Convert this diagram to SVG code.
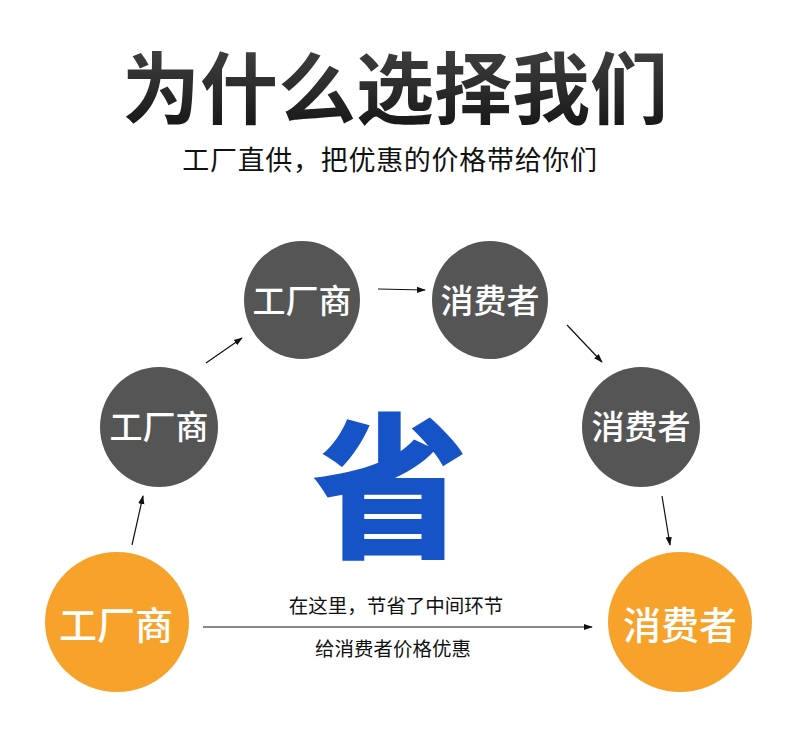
<svg xmlns="http://www.w3.org/2000/svg" width="790" height="749" viewBox="0 0 790 749">
<style>
.f{font-family:"Noto Sans CJK SC","Noto Sans",sans-serif}
.dark{fill:#555555}
.orange{fill:#F6A22B}
.nt{fill:#ffffff;font-size:33px;font-weight:500;text-anchor:middle}
.ot{fill:#ffffff;font-size:38px;font-weight:500;text-anchor:middle}
.cap{fill:#111;font-size:19.5px;text-anchor:middle}
.conn line{stroke:#111;stroke-width:1.2;fill:none}
</style>
<defs>
<linearGradient id="tg" x1="0" y1="0" x2="0" y2="1">
<stop offset="0" stop-color="#4a4a4a"/>
<stop offset="1" stop-color="#111111"/>
</linearGradient>
<marker id="ah" viewBox="0 0 10 10" refX="9" refY="5" markerWidth="9" markerHeight="9" markerUnits="userSpaceOnUse" orient="auto">
<path d="M0,1.5 L10,5 L0,8.5 Z" fill="#111"/>
</marker>
</defs>
<rect width="790" height="749" fill="#ffffff"/>
<g id="title">
<text class="f" x="395" y="118" font-size="78" font-weight="700" text-anchor="middle" fill="url(#tg)">为什么选择我们</text>
<text class="f" x="390" y="170" font-size="27" font-weight="400" text-anchor="middle" fill="#111" letter-spacing="0.7">工厂直供，把优惠的价格带给你们</text>
</g>
<g id="big">
<text class="f" x="390" y="545" font-size="156" font-weight="900" text-anchor="middle" fill="#1553C7">省</text>
</g>
<g id="n1">
<ellipse class="dark" cx="159" cy="427" rx="59" ry="60"/>
<text class="f nt" x="159" y="439">工厂商</text>
</g>
<g id="n2">
<ellipse class="dark" cx="302" cy="300" rx="58" ry="59"/>
<text class="f nt" x="302" y="313">工厂商</text>
</g>
<g id="n3">
<ellipse class="dark" cx="490" cy="300" rx="58" ry="59"/>
<text class="f nt" x="490" y="313">消费者</text>
</g>
<g id="n4">
<ellipse class="dark" cx="641" cy="427" rx="59" ry="60"/>
<text class="f nt" x="641" y="439">消费者</text>
</g>
<g id="n5">
<ellipse class="orange" cx="117" cy="622" rx="72" ry="70"/>
<text class="f ot" x="116" y="639">工厂商</text>
</g>
<g id="n6">
<ellipse class="orange" cx="680" cy="622" rx="72" ry="70"/>
<text class="f ot" x="680" y="639">消费者</text>
</g>
<g id="connectors" class="conn">
<line x1="132" y1="545" x2="143" y2="496" marker-end="url(#ah)"/>
<line x1="206" y1="363" x2="242" y2="338" marker-end="url(#ah)"/>
<line x1="378" y1="289" x2="425" y2="290" marker-end="url(#ah)"/>
<line x1="567" y1="325" x2="602" y2="362" marker-end="url(#ah)"/>
<line x1="662" y1="496" x2="670" y2="545" marker-end="url(#ah)"/>
<line x1="203" y1="627" x2="592" y2="627" marker-end="url(#ah)"/>
</g>
<g id="labels">
<text class="f cap" x="396" y="613">在这里，节省了中间环节</text>
<text class="f cap" x="393" y="656">给消费者价格优惠</text>
</g>
</svg>
